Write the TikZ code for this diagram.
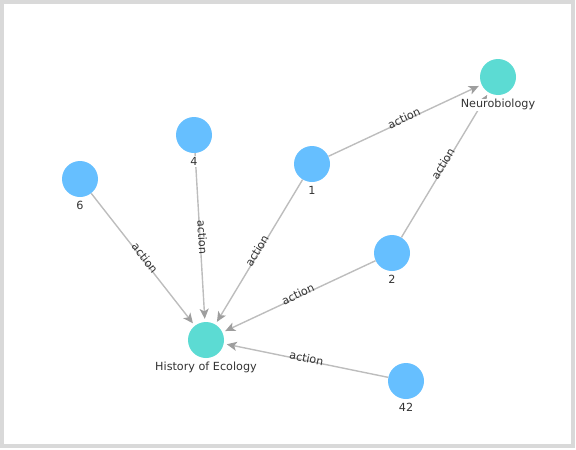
\documentclass[tikz,border=0pt]{standalone}
\usepackage{fontspec}
\setmainfont{DejaVu Sans}
\usetikzlibrary{arrows.meta}
\definecolor{nblue}{HTML}{66BFFF}
\definecolor{nteal}{HTML}{5CDBD3}
\definecolor{edgec}{HTML}{BDBDBD}
\definecolor{tipc}{HTML}{9E9E9E}
\definecolor{txt}{HTML}{333333}
\definecolor{frame}{HTML}{D9D9D9}
\tikzset{
  blue node/.style={circle,fill=nblue,draw=none,minimum size=36pt,inner sep=0pt},
  teal node/.style={circle,fill=nteal,draw=none,minimum size=36pt,inner sep=0pt},
  nlabel/.style={text=txt,font=\fontsize{11.2}{13}\selectfont,inner sep=1pt,fill=white,anchor=north,yshift=-3pt},
  rel/.style={draw=edgec,line width=1.4pt,shorten >=3pt,
    -{Stealth[length=10pt,width=9pt,inset=2.5pt,color=tipc]}},
  elabel/.style={text=txt,font=\fontsize{11.2}{13}\selectfont,inner sep=0pt,sloped,midway,yshift=2.5pt}
}
\begin{document}
\begin{tikzpicture}[x=1pt,y=-1pt]
\useasboundingbox (0,0) rectangle (576,450);
\draw[frame,line width=4pt] (2,2) rectangle (573,446);

\node[teal node] (neuro) at (498,77) {};
\node[blue node] (n4) at (194,135) {};
\node[blue node] (n1) at (312,164) {};
\node[blue node] (n6) at (80,179) {};
\node[blue node] (n2) at (392,253) {};
\node[teal node] (hoe) at (206,340) {};
\node[blue node] (n42) at (406,381) {};

\draw[rel] (n6) -- node[elabel] {action} (hoe);
\draw[rel] (n4) -- node[elabel] {action} (hoe);
\draw[rel] (n1) -- node[elabel] {action} (hoe);
\draw[rel] (n2) -- node[elabel] {action} (hoe);
\draw[rel] (n42) -- node[elabel] {action} (hoe);
\draw[rel] (n1) -- node[elabel] {action} (neuro);
\draw[rel] (n2) -- node[elabel] {action} (neuro);

\node[nlabel] (lneuro) at (neuro.south) {Neurobiology};
\node[nlabel] (l4) at (n4.south) {4};
\node[nlabel] (l1) at (n1.south) {1};
\node[nlabel] (l6) at (n6.south) {6};
\node[nlabel] (l2) at (n2.south) {2};
\node[nlabel] (lhoe) at (hoe.south) {History of Ecology};
\node[nlabel] (l42) at (n42.south) {42};

\begin{scope}
\clip (lneuro.north west) ++(-20,0) rectangle ++(120,-40);
\draw[rel] (n2) -- (neuro);
\end{scope}
\end{tikzpicture}
\end{document}
